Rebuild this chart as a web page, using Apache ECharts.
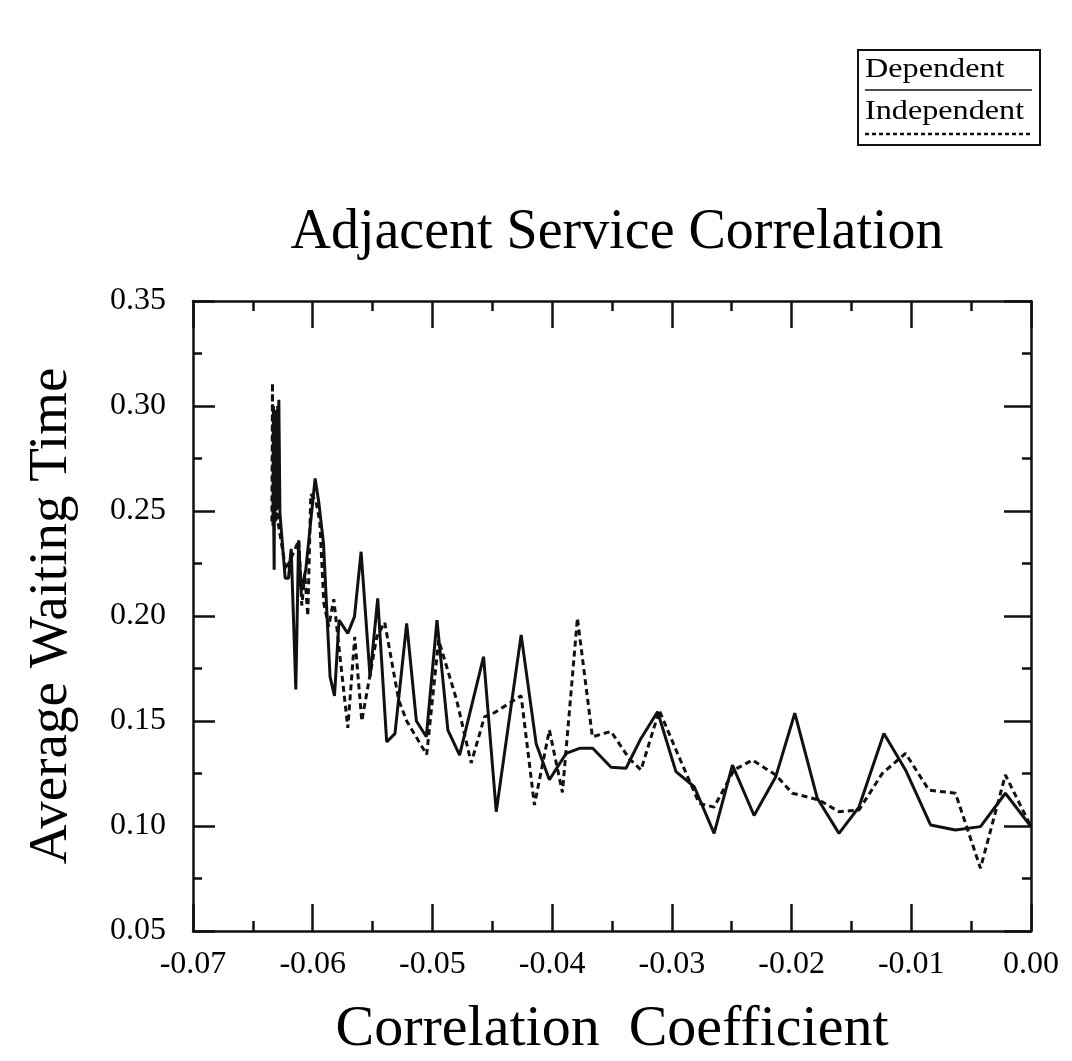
<!DOCTYPE html>
<html><head><meta charset="utf-8">
<script src="https://cdn.jsdelivr.net/npm/echarts@6/dist/echarts.min.js"></script>
<style>html,body{margin:0;padding:0;background:#fff}#c{width:1072px;height:1061px}</style>
</head><body><div id="c"></div>
<script>
// ---- data ----
const depX = [-0.06326,-0.06322,-0.06318,-0.06312,-0.06305,-0.06299,-0.06293,-0.06288,-0.06283,-0.06274,-0.0623,-0.06202,-0.0618,-0.06141,-0.06118,-0.06097,-0.06058,-0.0598,-0.05949,-0.0591,-0.05855,-0.05818,-0.0578,-0.05707,-0.05651,-0.05596,-0.05521,-0.05457,-0.05382,-0.05313,-0.05215,-0.05134,-0.05051,-0.04962,-0.04871,-0.04773,-0.04573,-0.04467,-0.04259,-0.04133,-0.04023,-0.03883,-0.03772,-0.03661,-0.03508,-0.03383,-0.03258,-0.03119,-0.02966,-0.02813,-0.02647,-0.02494,-0.02313,-0.02132,-0.01973,-0.01785,-0.01604,-0.01437,-0.01229,-0.01048,-0.00839,-0.00631,-0.00422,-0.00214,0.0];
const depY = [0.245,0.222,0.295,0.250,0.298,0.252,0.300,0.255,0.303,0.249,0.218,0.218,0.232,0.165,0.236,0.212,0.222,0.2655,0.254,0.2346,0.171,0.162,0.198,0.1917,0.1997,0.2306,0.171,0.2084,0.140,0.144,0.1965,0.150,0.1425,0.198,0.1457,0.1338,0.1806,0.1068,0.191,0.139,0.122,0.1346,0.137,0.137,0.128,0.1275,0.1417,0.1544,0.1259,0.1187,0.0965,0.129,0.105,0.1235,0.1537,0.1132,0.0965,0.109,0.144,0.1267,0.1005,0.0981,0.0997,0.1156,0.0997];
const indX = [-0.06341,-0.06336,-0.06332,-0.06328,-0.06324,-0.0632,-0.06316,-0.06311,-0.06306,-0.063,-0.06291,-0.06224,-0.06116,-0.06091,-0.06066,-0.06041,-0.06016,-0.05974,-0.05941,-0.05907,-0.05866,-0.05824,-0.05707,-0.05649,-0.0559,-0.05465,-0.05399,-0.05282,-0.05215,-0.05048,-0.04948,-0.04798,-0.04676,-0.04565,-0.04481,-0.04259,-0.04148,-0.04023,-0.03914,-0.03789,-0.03664,-0.03508,-0.03355,-0.03258,-0.03105,-0.02953,-0.02772,-0.02647,-0.0248,-0.02327,-0.02132,-0.01993,-0.01771,-0.01604,-0.01437,-0.01243,-0.01048,-0.00853,-0.00631,-0.00422,-0.00214,0.0];
const indY = [0.245,0.311,0.243,0.300,0.246,0.298,0.244,0.295,0.245,0.290,0.245,0.222,0.236,0.205,0.220,0.200,0.258,0.255,0.245,0.206,0.195,0.208,0.1467,0.190,0.150,0.190,0.197,0.160,0.150,0.134,0.1886,0.160,0.130,0.152,0.154,0.162,0.110,0.1457,0.116,0.199,0.1425,0.145,0.132,0.1267,0.155,0.1346,0.1108,0.109,0.1267,0.1314,0.1243,0.1156,0.1124,0.1068,0.1076,0.125,0.1346,0.1171,0.1156,0.0799,0.1243,0.0997];
const xTickLabels = ['-0.07','-0.06','-0.05','-0.04','-0.03','-0.02','-0.01','0.00'];
const yTickLabels = ['0.05','0.10','0.15','0.20','0.25','0.30','0.35'];
const seriesNames = ['Dependent','Independent'];
const titleText = 'Adjacent Service Correlation';
const xName = 'Correlation  Coefficient';
const yName = 'Average Waiting Time';

// ---- chart ----
const FONT = '"Liberation Serif", "DejaVu Serif", serif';
const chart = echarts.init(document.getElementById('c'), null, {renderer: 'canvas'});
const xMin = -0.07, xMax = 0, xInt = 0.01;
const yMin = 0.05, yMax = 0.35, yInt = 0.05;
const lineCol = '#111';
function xAxisBase(pos, showLabel) {
  return {
    type: 'value', position: pos, min: xMin, max: xMax, interval: xInt,
    axisLine: {show: true, onZero: false, lineStyle: {color: lineCol, width: 2.5}},
    axisTick: {show: true, inside: true, length: 27, lineStyle: {color: lineCol, width: 2.5}},
    minorTick: {show: true, splitNumber: 2, length: 10, lineStyle: {color: lineCol, width: 2.5}},
    splitLine: {show: false},
    axisLabel: {show: showLabel, margin: 18, color: '#000', fontFamily: FONT, fontSize: 32,
      formatter: v => xTickLabels[Math.round((v - xMin) / xInt)] || ''}
  };
}
function yAxisBase(pos, showLabel) {
  return {
    type: 'value', position: pos, min: yMin, max: yMax, interval: yInt,
    axisLine: {show: true, onZero: false, lineStyle: {color: lineCol, width: 2.5}},
    axisTick: {show: true, inside: true, length: pos === 'left' ? 22 : 27, lineStyle: {color: lineCol, width: 2.5}},
    minorTick: {show: true, splitNumber: 2, length: 9, lineStyle: {color: lineCol, width: 2.5}},
    splitLine: {show: false},
    axisLabel: {show: showLabel, margin: 27, color: '#000', fontFamily: FONT, fontSize: 32,
      formatter: v => yTickLabels[Math.round((v - yMin) / yInt)] || ''}
  };
}
const xb = xAxisBase('bottom', true);
xb.name = xName; xb.nameLocation = 'middle'; xb.nameGap = 70;
xb.nameTextStyle = {fontFamily: FONT, fontSize: 58, color: '#000'};
const yl = yAxisBase('left', true);
yl.name = yName; yl.nameLocation = 'middle'; yl.nameGap = 114;
yl.nameTextStyle = {fontFamily: FONT, fontSize: 55, color: '#000'};

// legend box (drawn as graphic)
const LX = 858, LY = 50, LW = 182, LH = 95;
const legFont = '28px ' + FONT;
chart.setOption({
  animation: false,
  backgroundColor: '#fff',
  title: {text: titleText, left: 612, top: 200, textAlign: 'center',
    textStyle: {fontFamily: FONT, fontSize: 56, fontWeight: 'normal', color: '#000'}},
  grid: {left: 193, right: 41, top: 301, bottom: 130, outerBoundsMode: 'none'},
  xAxis: [xb, xAxisBase('top', false)],
  yAxis: [yl, yAxisBase('right', false)],
  series: [
    {name: seriesNames[0], type: 'line', xAxisIndex: 0, yAxisIndex: 0, showSymbol: false, symbol: 'none',
      data: depX.map((x, i) => [x, depY[i]]), lineStyle: {color: lineCol, width: 3, type: 'solid'}},
    {name: seriesNames[1], type: 'line', xAxisIndex: 0, yAxisIndex: 0, showSymbol: false, symbol: 'none',
      data: indX.map((x, i) => [x, indY[i]]), lineStyle: {color: lineCol, width: 3, type: [6, 4]}}
  ],
  graphic: [
    {type: 'rect', shape: {x: LX, y: LY, width: LW, height: LH}, style: {fill: 'none', stroke: lineCol, lineWidth: 2}},
    {type: 'text', x: LX + 7, y: LY + 6, scaleX: 1.15, style: {text: seriesNames[0], font: legFont, fill: '#000'}},
    {type: 'line', shape: {x1: LX + 7, y1: LY + 40, x2: LX + LW - 8, y2: LY + 40}, style: {stroke: lineCol, lineWidth: 1.5}},
    {type: 'text', x: LX + 7, y: LY + 48, scaleX: 1.15, style: {text: seriesNames[1], font: legFont, fill: '#000'}},
    {type: 'line', shape: {x1: LX + 7, y1: LY + 84, x2: LX + LW - 8, y2: LY + 84}, style: {stroke: lineCol, lineWidth: 2.5, lineDash: [4, 3]}}
  ]
});
</script></body></html>
